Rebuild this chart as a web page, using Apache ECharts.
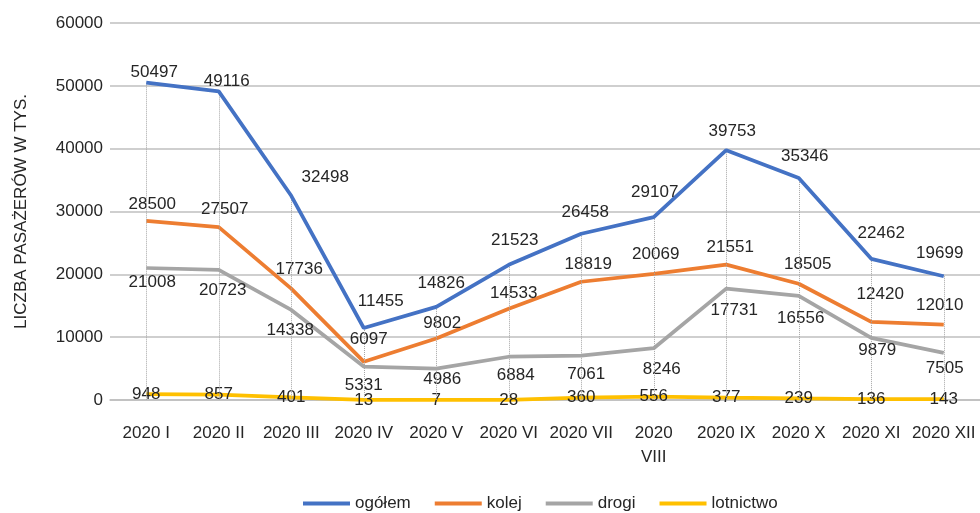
<!DOCTYPE html>
<html><head><meta charset="utf-8">
<script src="https://cdn.jsdelivr.net/npm/echarts@6/dist/echarts.min.js"></script>
<style>html,body{margin:0;padding:0;background:#fff}#c{width:980px;height:513px}</style>
</head><body><div id="c"></div>
<script>
const categories = ['2020 I','2020 II','2020 III','2020 IV','2020 V','2020 VI','2020 VII','2020 VIII','2020 IX','2020 X','2020 XI','2020 XII'];
const ogolem = [50497,49116,32498,11455,14826,21523,26458,29107,39753,35346,22462,19699];
const kolej = [28500,27507,17736,6097,9802,14533,18819,20069,21551,18505,12420,12010];
const drogi = [21008,20723,14338,5331,4986,6884,7061,8246,17731,16556,9879,7505];
const lotnictwo = [948,857,401,13,7,28,360,556,377,239,136,143];
const yTicks = [0,10000,20000,30000,40000,50000,60000];

const FONT = '"Liberation Sans", Arial, sans-serif';
const FS = 17;
const TXT = '#262626';
const chart = echarts.init(document.getElementById('c'));

// label nudges (pixels) per point, styling only
const labelNudge = [
  [[8,4],[8,4],[34,-4],[17,-12],[5,-9],[6,-10],[4,-7],[1,-10],[6,-4],[6,-7],[10,-11],[-4,-8]],
  [[6,-2],[6,-3],[8,-5],[5,-8],[6,-1],[5,-1],[7,-3],[2,-5],[4,-3],[9,-5],[9,-13],[-4,-5]],
  [[6,0],[4,6],[-1,6],[0,4],[6,-4],[7,4],[5,4],[8,7],[8,7],[2,8],[6,-2],[1,1]],
  [[0,0],[0,0],[0,0],[0,0],[0,0],[0,0],[0,0],[0,0],[0,0],[0,0],[0,0],[0,0]]
];

const dropLines = ogolem.map((v,i)=>[{coord:[i, v]},{coord:[i, 0]}]);

const lbl = {show:true, color:TXT, fontSize:FS, fontFamily:FONT};
const nudge = p => { const n = labelNudge[p.seriesIndex][p.dataIndex]; return {dx:n[0], dy:n[1], hideOverlap:false}; };

chart.setOption({
  animation:false,
  textStyle:{fontFamily:FONT},
  grid:{left:110, width:871, top:23, bottom:113},
  legend:{
    top:490, left:298, itemWidth:47, itemHeight:4, itemGap:24,
    icon:'rect',
    textStyle:{fontSize:FS, color:TXT, fontFamily:FONT},
    data:['ogółem','kolej','drogi','lotnictwo']
  },
  xAxis:{
    type:'category', data:categories, boundaryGap:true,
    axisLine:{show:true, lineStyle:{color:'#BFBFBF', width:1.5}},
    axisTick:{show:false},
    axisLabel:{color:TXT, fontSize:FS, fontFamily:FONT, margin:21, interval:0,
      formatter:v=> v.length>8 ? v.replace(' ','\n') : v, lineHeight:24}
  },
  yAxis:{
    type:'value', min:yTicks[0], max:yTicks[yTicks.length-1], interval:10000,
    name:'LICZBA PASAŻERÓW W TYS.', nameLocation:'middle', nameGap:80,
    nameTextStyle:{color:TXT, fontSize:FS, fontFamily:FONT},
    axisLine:{show:false}, axisTick:{show:false},
    axisLabel:{color:TXT, fontSize:FS, fontFamily:FONT, margin:7, formatter:v=>String(v)},
    splitLine:{lineStyle:{color:'#BFBFBF', width:1.5}}
  },
  series:[
    {name:'ogółem', type:'line', data:ogolem, color:'#4472C4',
     lineStyle:{width:3.75}, symbol:'circle', symbolSize:0, showSymbol:true, z:5,
     label:Object.assign({position:'top', distance:6}, lbl), labelLayout:nudge,
     markLine:{silent:true, symbol:'none', label:{show:false},
       lineStyle:{type:'dotted', color:'#A6A6A6', width:1}, data:dropLines}},
    {name:'kolej', type:'line', data:kolej, color:'#ED7D31',
     lineStyle:{width:3.75}, symbol:'circle', symbolSize:0, showSymbol:true, z:4,
     label:Object.assign({position:'top', distance:6}, lbl), labelLayout:nudge},
    {name:'drogi', type:'line', data:drogi, color:'#A5A5A5',
     lineStyle:{width:3.75}, symbol:'circle', symbolSize:0, showSymbol:true, z:3,
     label:Object.assign({position:'bottom', distance:6}, lbl), labelLayout:nudge},
    {name:'lotnictwo', type:'line', data:lotnictwo, color:'#FFC000',
     lineStyle:{width:3.75}, symbol:'circle', symbolSize:0, showSymbol:true, z:2,
     label:Object.assign({position:'inside'}, lbl), labelLayout:nudge}
  ]
});
</script></body></html>
